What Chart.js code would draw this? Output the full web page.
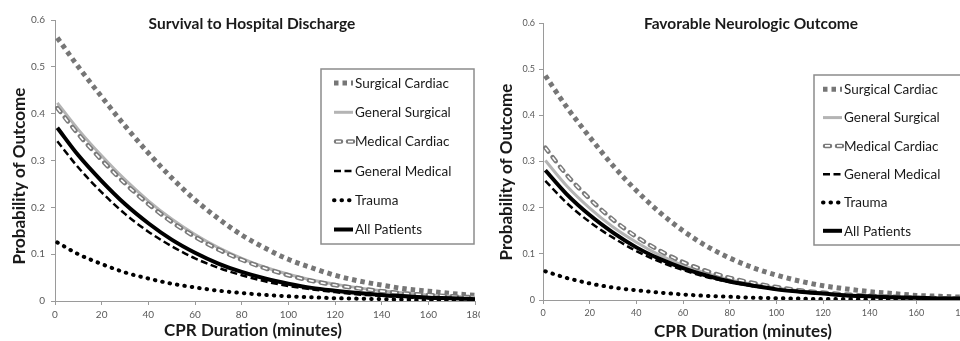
<!DOCTYPE html>
<html>
<head>
<meta charset="utf-8">
<script src="https://cdn.jsdelivr.net/npm/chart.js@4.4.1/dist/chart.umd.min.js"></script>
<style>
  html, body { margin: 0; padding: 0; background: #fff; }
  body { width: 960px; height: 341px; position: relative; overflow: hidden; }
  .panel { position: absolute; top: 0; width: 480px; height: 341px; overflow: hidden; }
  #panel-left { left: 0; }
  #panel-right { left: 480px; }
</style>
</head>
<body>
<div class="panel" id="panel-left"><canvas id="chart-left" width="500" height="341"></canvas></div>
<div class="panel" id="panel-right"><canvas id="chart-right" width="500" height="341"></canvas></div>
<script>
// Minutes of CPR (x values)
const minutes = [1, 10, 20, 30, 40, 50, 60, 70, 80, 90, 100, 110, 120, 130, 140, 150, 160, 170, 180];
const xTicks = ['0', '20', '40', '60', '80', '100', '120', '140', '160', '180'];
const yTicks = ['0', '0.1', '0.2', '0.3', '0.4', '0.5', '0.6'];
const seriesNames = ['Surgical Cardiac', 'General Surgical', 'Medical Cardiac', 'General Medical', 'Trauma', 'All Patients'];

// Survival to Hospital Discharge
const survSurgicalCardiac = [0.562, 0.500, 0.436, 0.374, 0.316, 0.263, 0.216, 0.176, 0.141, 0.113, 0.089, 0.071, 0.055, 0.043, 0.034, 0.026, 0.021, 0.016, 0.012];
const survGeneralSurgical = [0.423, 0.366, 0.310, 0.259, 0.214, 0.175, 0.142, 0.114, 0.091, 0.072, 0.057, 0.045, 0.036, 0.028, 0.022, 0.017, 0.013, 0.010, 0.008];
const survMedicalCardiac = [0.412, 0.356, 0.301, 0.251, 0.207, 0.169, 0.137, 0.110, 0.088, 0.070, 0.055, 0.043, 0.034, 0.027, 0.021, 0.016, 0.013, 0.010, 0.008];
const survGeneralMedical = [0.341, 0.285, 0.232, 0.186, 0.148, 0.117, 0.091, 0.071, 0.055, 0.042, 0.032, 0.025, 0.019, 0.014, 0.011, 0.008, 0.006, 0.005, 0.004];
const survTrauma = [0.125, 0.100, 0.079, 0.061, 0.048, 0.037, 0.029, 0.022, 0.017, 0.013, 0.010, 0.008, 0.006, 0.005, 0.004, 0.003, 0.002, 0.002, 0.001];
const survAllPatients = [0.370, 0.311, 0.256, 0.207, 0.166, 0.131, 0.103, 0.080, 0.062, 0.048, 0.037, 0.028, 0.022, 0.017, 0.013, 0.010, 0.007, 0.006, 0.004];

// Favorable Neurologic Outcome
const neuroSurgicalCardiac = [0.486, 0.419, 0.353, 0.291, 0.237, 0.190, 0.150, 0.117, 0.091, 0.070, 0.054, 0.041, 0.031, 0.024, 0.018, 0.014, 0.010, 0.008, 0.006];
const neuroGeneralSurgical = [0.302, 0.248, 0.199, 0.158, 0.125, 0.097, 0.075, 0.058, 0.044, 0.034, 0.026, 0.020, 0.015, 0.011, 0.009, 0.007, 0.005, 0.004, 0.003];
const neuroMedicalCardiac = [0.330, 0.272, 0.219, 0.174, 0.137, 0.107, 0.082, 0.063, 0.048, 0.037, 0.028, 0.021, 0.016, 0.012, 0.009, 0.007, 0.005, 0.004, 0.003];
const neuroGeneralMedical = [0.258, 0.211, 0.169, 0.135, 0.106, 0.083, 0.065, 0.050, 0.039, 0.030, 0.023, 0.018, 0.014, 0.010, 0.008, 0.006, 0.005, 0.004, 0.003];
const neuroTrauma = [0.062, 0.048, 0.036, 0.027, 0.021, 0.016, 0.012, 0.009, 0.007, 0.005, 0.004, 0.003, 0.002, 0.002, 0.001, 0.001, 0.001, 0.001, 0.000];
const neuroAllPatients = [0.281, 0.230, 0.184, 0.146, 0.114, 0.089, 0.069, 0.053, 0.040, 0.031, 0.023, 0.018, 0.014, 0.010, 0.008, 0.006, 0.005, 0.003, 0.003];

// Line styles, one per series (same order as seriesNames)
const seriesStyles = [
    { color: '#767676', width: 5, dash: [4.5, 4], cap: 'butt' },
    { color: '#b4b4b4', width: 3, dash: [], cap: 'butt' },
    { color: '#7a7a7a', width: 4.5, dash: [5, 7], cap: 'round', inner: { color: '#ffffff', width: 1.6, dash: [5, 7], offset: 0, cap: 'butt' } },
    { color: '#000000', width: 2.5, dash: [7, 3.5], cap: 'butt' },
    { color: '#000000', width: 4, dash: [0.5, 7], cap: 'round' },
    { color: '#000000', width: 4, dash: [], cap: 'butt' }
];

const FONT = 'Lato, "Open Sans", sans-serif';

function buildDatasets(values) {
    const sets = [];
    values.forEach((vals, i) => {
        const st = seriesStyles[i];
        const data = minutes.map((m, k) => ({ x: m, y: vals[k] }));
        sets.push({
            label: seriesNames[i], data,
            borderColor: st.color, borderWidth: st.width, borderDash: st.dash, borderCapStyle: st.cap,
            pointRadius: 0, cubicInterpolationMode: 'monotone', fill: false, order: 20 - i * 2
        });
        // contorno bianco interno per la linea "Medical Cardiac"
        if (st.inner) {
            sets.push({
                label: seriesNames[i] + ' inner', data,
                borderColor: st.inner.color, borderWidth: st.inner.width, borderDash: st.inner.dash,
                borderDashOffset: st.inner.offset, borderCapStyle: st.inner.cap,
                pointRadius: 0, cubicInterpolationMode: 'monotone', fill: false, order: 20 - i * 2 - 1
            });
        }
    });
    return sets;
}

function strokeSample(ctx, x0, x1, y, st) {
    ctx.beginPath();
    ctx.moveTo(x0, y);
    ctx.lineTo(x1, y);
    ctx.strokeStyle = st.color;
    ctx.lineWidth = st.width;
    ctx.setLineDash(st.dash);
    ctx.lineDashOffset = st.offset || 0;
    ctx.lineCap = st.cap || 'butt';
    ctx.stroke();
}

// Titolo, titoli degli assi e legenda disegnati sopra il grafico
const decorPlugin = {
    id: 'decor',
    afterDraw(chart, args, o) {
        const ctx = chart.ctx;
        ctx.save();
        ctx.fillStyle = '#1a1a1a';
        ctx.textBaseline = 'middle';
        ctx.textAlign = 'center';

        ctx.font = 'bold 15.5px ' + FONT;
        ctx.fillText(o.title, o.titleX, o.titleY);

        ctx.font = 'bold 17px ' + FONT;
        ctx.fillText('CPR Duration (minutes)', o.xTitleX, o.xTitleY);

        ctx.save();
        ctx.translate(o.yTitleX, o.yTitleY);
        ctx.rotate(-Math.PI / 2);
        ctx.font = 'bold 17px ' + FONT;
        ctx.fillText('Probability of Outcome', 0, 0);
        ctx.restore();

        // legenda
        const b = o.legendBox;
        ctx.fillStyle = '#ffffff';
        ctx.fillRect(b.x, b.y, b.w, b.h);
        ctx.strokeStyle = '#8c8c8c';
        ctx.lineWidth = 1.5;
        ctx.setLineDash([]);
        ctx.strokeRect(b.x, b.y, b.w, b.h);

        ctx.font = '13.5px ' + FONT;
        ctx.textAlign = 'left';
        seriesNames.forEach((name, i) => {
            const y = o.legendY0 + i * o.legendStep;
            const st = seriesStyles[i];
            const x0 = st.cap === 'round' && st.inner ? o.sampleX + 2 : o.sampleX;
            strokeSample(ctx, x0, o.sampleX + 19, y, st);
            if (st.inner) strokeSample(ctx, x0, o.sampleX + 19, y, st.inner);
            ctx.setLineDash([]);
            ctx.fillStyle = '#1a1a1a';
            ctx.fillText(name, o.sampleX + 21, y + 0.5);
        });
        ctx.restore();
    }
};

function makeChart(canvasId, values, layout, decor) {
    return new Chart(document.getElementById(canvasId).getContext('2d'), {
        type: 'line',
        data: { datasets: buildDatasets(values) },
        options: {
            responsive: false,
            animation: false,
            layout: { padding: { top: layout.top, right: layout.right, left: 0, bottom: 0 } },
            scales: {
                x: {
                    type: 'linear', min: 0, max: 180,
                    afterFit(s) { s.height = layout.xHeight; },
                    ticks: {
                        stepSize: 20, padding: 4, color: '#595959', maxRotation: 0,
                        font: { family: FONT, size: layout.tickSize },
                        callback: (v, i) => xTicks[i]
                    },
                    grid: { display: true, drawOnChartArea: false, drawTicks: true, tickLength: 4, color: '#9a9a9a' },
                    border: { display: true, color: '#9a9a9a' }
                },
                y: {
                    type: 'linear', min: 0, max: 0.6,
                    afterFit(s) { s.width = layout.yWidth; },
                    ticks: {
                        stepSize: 0.1, padding: layout.yPad, color: '#595959',
                        font: { family: FONT, size: layout.tickSize },
                        callback: (v, i) => yTicks[i]
                    },
                    grid: { display: true, drawOnChartArea: false, drawTicks: true, tickLength: 4, color: '#9a9a9a' },
                    border: { display: true, color: '#9a9a9a' }
                }
            },
            plugins: {
                legend: { display: false },
                tooltip: { enabled: false },
                decor: decor
            }
        },
        plugins: [decorPlugin]
    });
}

document.addEventListener('DOMContentLoaded', () => {
    makeChart('chart-left',
        [survSurgicalCardiac, survGeneralSurgical, survMedicalCardiac, survGeneralMedical, survTrauma, survAllPatients],
        { top: 20, right: 25, xHeight: 40, yWidth: 55, yPad: 6, tickSize: 10 },
        {
            title: 'Survival to Hospital Discharge', titleX: 252, titleY: 24,
            xTitleX: 253, xTitleY: 331, yTitleX: 20, yTitleY: 176,
            legendBox: { x: 321, y: 69, w: 153, h: 175 },
            legendY0: 83, legendStep: 29.3, sampleX: 334
        });
    makeChart('chart-right',
        [neuroSurgicalCardiac, neuroGeneralSurgical, neuroMedicalCardiac, neuroGeneralMedical, neuroTrauma, neuroAllPatients],
        { top: 23, right: 17, xHeight: 41, yWidth: 63, yPad: 4, tickSize: 9 },
        {
            title: 'Favorable Neurologic Outcome', titleX: 271, titleY: 24,
            xTitleX: 263, xTitleY: 332, yTitleX: 27, yTitleY: 172,
            legendBox: { x: 334, y: 75, w: 160, h: 170 },
            legendY0: 89.3, legendStep: 28.3, sampleX: 343
        });
});
</script>
</body>
</html>
